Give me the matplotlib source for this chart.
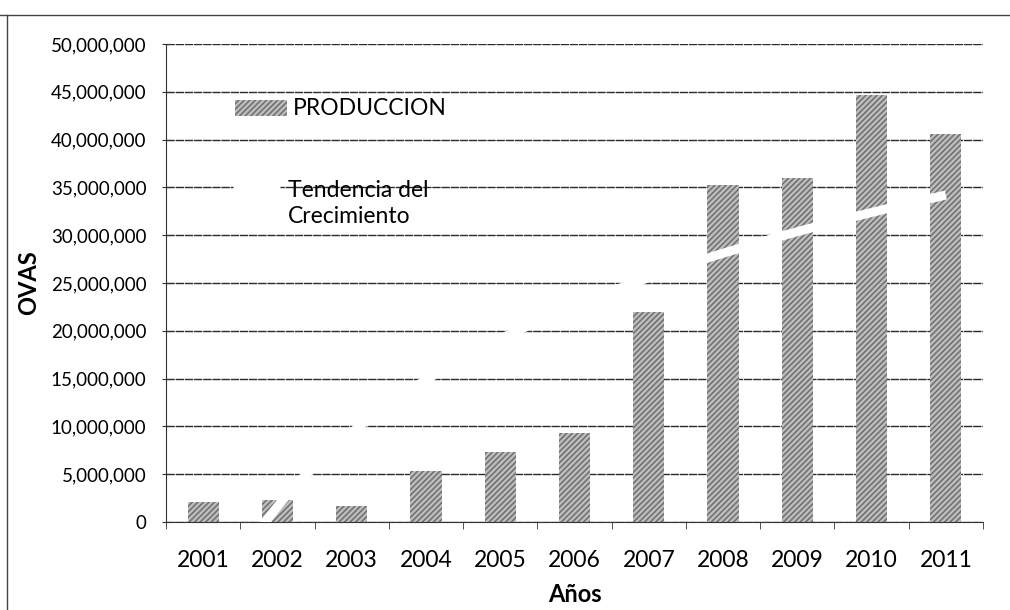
import numpy as np
import matplotlib
matplotlib.use("Agg")
import matplotlib.pyplot as plt
from matplotlib.lines import Line2D
from matplotlib.patches import Rectangle
from matplotlib.ticker import FuncFormatter, MultipleLocator

plt.rcParams['font.family'] = ['Lato', 'DejaVu Sans']
plt.rcParams['hatch.linewidth'] = 1.1

years = ['2001', '2002', '2003', '2004', '2005', '2006',
         '2007', '2008', '2009', '2010', '2011']
produccion = [2050000, 2300000, 1700000, 5350000, 7300000, 9300000,
              22000000, 35250000, 36000000, 44700000, 40600000]

x = np.arange(len(years))

# excel style logarithmic trend of the production
b, a = np.polyfit(np.log(x + 1), produccion, 1)
xs = np.linspace(0, len(years) - 1, 300)
trend = a + b * np.log(xs + 1)

bar_face = '#bdbdbd'
bar_hatch = '#6e6e6e'

fig = plt.figure(figsize=(10.1, 6.1), dpi=100)
ax = fig.add_axes([166/1010, 1 - 522/610, 817/1010, 478/610])

ax.bar(x, produccion, width=0.42, color=bar_face, edgecolor=bar_hatch,
       hatch='//////', linewidth=0, zorder=2)
ax.plot(xs, trend, color='white', lw=6.5, solid_capstyle='butt', zorder=3)

ax.set_xlim(-0.5, len(years) - 0.5)
ax.set_ylim(0, 50000000)
ax.yaxis.set_major_locator(MultipleLocator(5000000))
ax.yaxis.set_major_formatter(FuncFormatter(lambda v, p: '{:,.0f}'.format(v)))
ax.grid(axis='y', color='#2a2a2a', lw=1.0, ls=(0, (6, 0.6)))
ax.set_axisbelow(True)

ax.set_xticks(x)
ax.set_xticklabels(years)
ax.set_xticks(np.arange(-0.5, len(years)), minor=True)
ax.tick_params(axis='x', which='major', length=0, pad=20, labelsize=16.5)
ax.tick_params(axis='x', which='minor', length=5, direction='out', color='#333333')
ax.tick_params(axis='y', length=6, direction='inout', pad=11, labelsize=13.5,
               color='#333333')

for s in ['top', 'right']:
    ax.spines[s].set_visible(False)
ax.spines['left'].set_color('#333333')
ax.spines['bottom'].set_color('#333333')

ax.set_ylabel('OVAS', fontsize=17, fontweight='bold', labelpad=8)
ax.set_xlabel('Años', fontsize=17, fontweight='bold', labelpad=9)

# legend keys, no frame (the grid shows through)
ax.add_patch(Rectangle((0.0845, 0.849), 0.0636, 0.0335, transform=ax.transAxes,
                       facecolor=bar_face, edgecolor=bar_hatch, hatch='//////',
                       linewidth=0, zorder=4))
ax.text(0.155, 0.866, 'PRODUCCION', transform=ax.transAxes, fontsize=16.5,
        va='center', ha='left', zorder=4)
ax.add_line(Line2D([0.082, 0.1395], [0.701, 0.701], transform=ax.transAxes,
                   color='white', lw=6.5, solid_capstyle='butt', zorder=4))
ax.text(0.149, 0.667, 'Tendencia del\nCrecimiento', transform=ax.transAxes,
        fontsize=16.5, va='center', ha='left', linespacing=1.3, zorder=4)

# edge of the scanned page
fig.add_artist(Line2D([7/1010, 7/1010], [0, 1 - 15/610], color='#444444', lw=1))
fig.add_artist(Line2D([0, 1], [1 - 15/610, 1 - 15/610], color='#444444', lw=1))

fig.savefig('out.png', dpi=100)
